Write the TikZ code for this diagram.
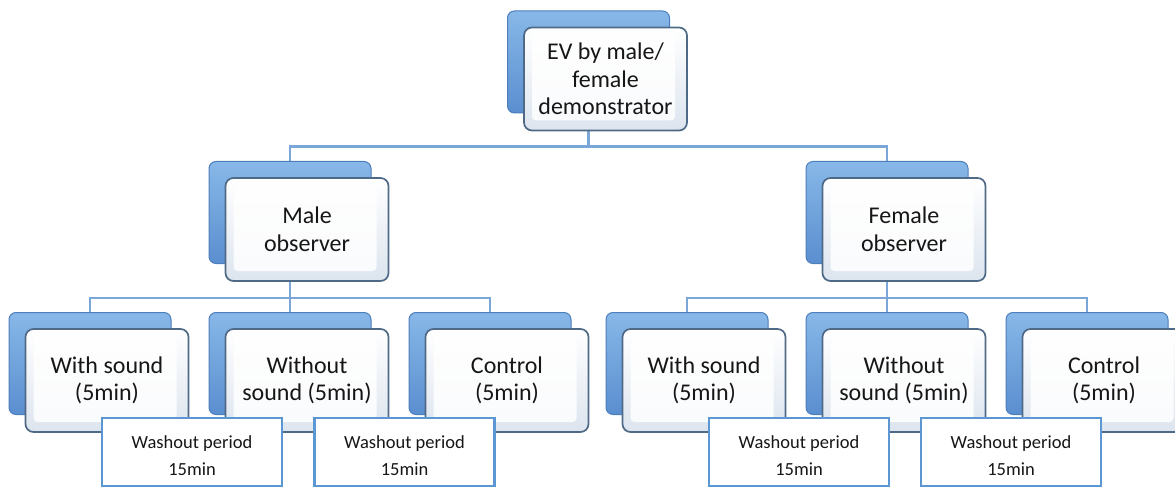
\documentclass[tikz,border=0pt]{standalone}
\usepackage{fontspec}
\setmainfont{Carlito}
\usepackage{tikz}
\usetikzlibrary{backgrounds}

\definecolor{backtop}{HTML}{88B8E8}
\definecolor{backbottom}{HTML}{5A8ECF}
\definecolor{backedge}{HTML}{4C7EBC}
\definecolor{frontedge}{HTML}{4F6A87}
\definecolor{frontbottom}{HTML}{DCE4EE}
\definecolor{linkcolor}{HTML}{7AA7D7}
\definecolor{washedge}{HTML}{5B97D2}
\definecolor{textcolor}{HTML}{161616}

\begin{document}
\begin{tikzpicture}[x=1pt, y=-1pt,
  backbox/.style={rectangle, rounded corners=7pt, top color=backtop, bottom color=backbottom,
    draw=backedge, line width=1pt, minimum width=162pt, minimum height=102pt, inner sep=0pt},
  frontbox/.style={rectangle, rounded corners=8pt, top color=white, bottom color=frontbottom,
    draw=frontedge, line width=1.7pt, minimum width=163pt, minimum height=103pt, inner sep=0pt,
    align=center, text=textcolor, font=\fontsize{24}{27.5}\selectfont,
    path picture={\fill[white, opacity=0.85, rounded corners=4pt]
      ([shift={(8pt,-7pt)}]path picture bounding box.north west) rectangle
      ([shift={(-12pt,10pt)}]path picture bounding box.south east);}},
  washbox/.style={rectangle, draw=washedge, line width=2.5pt, fill=white,
    minimum width=180pt, minimum height=68pt, inner sep=0pt, align=center, text height=48pt,
    text=textcolor, font=\fontsize{18.5}{27}\selectfont},
  link/.style={draw=linkcolor, line width=2.4pt}]
\def\frontshift{(17,17)}

\useasboundingbox (0,0) rectangle (1175,489);

% TOP BOX
\node[backbox] (evback) at (588.5, 62) {};
\node[frontbox] (ev) at ([shift=\frontshift]evback) {EV by male/\\female\\demonstrator};

% SECOND ROW
\node[backbox] (maleback) at (290, 212.5) {};
\node[frontbox] (male) at ([shift=\frontshift]maleback) {Male\\observer};

\node[backbox] (femaleback) at (887, 212.5) {};
\node[frontbox] (female) at ([shift=\frontshift]femaleback) {Female\\observer};

% THIRD ROW, MALE OBSERVER
\node[backbox] (mwithback) at (90, 363.5) {};
\node[frontbox] (mwith) at ([shift=\frontshift]mwithback) {With sound\\(5min)};

\node[backbox] (mwithoutback) at (290, 363.5) {};
\node[frontbox] (mwithout) at ([shift=\frontshift]mwithoutback) {Without\\sound (5min)};

\node[backbox] (mcontrolback) at (490, 363.5) {};
\node[frontbox] (mcontrol) at ([shift=\frontshift]mcontrolback) {Control\\(5min)};

% THIRD ROW, FEMALE OBSERVER
\node[backbox] (fwithback) at (687, 363.5) {};
\node[frontbox] (fwith) at ([shift=\frontshift]fwithback) {With sound\\(5min)};

\node[backbox] (fwithoutback) at (887, 363.5) {};
\node[frontbox] (fwithout) at ([shift=\frontshift]fwithoutback) {Without\\sound (5min)};

\node[backbox] (fcontrolback) at (1087, 363.5) {};
\node[frontbox] (fcontrol) at ([shift=\frontshift]fcontrolback) {Control\\(5min)};

% WASHOUT PERIODS
\node[washbox] (wash1) at (192, 452) {Washout period\\15min};
\node[washbox] (wash2) at (404.5, 452) {Washout period\\15min};
\node[washbox] (wash3) at (799, 452) {Washout period\\15min};
\node[washbox] (wash4) at (1011, 452) {Washout period\\15min};

% CONNECTORS
\begin{scope}[on background layer]
\draw[link] (evback.south) -- ++(0,33) -| (maleback.north);
\draw[link] (evback.south) -- ++(0,33) -| (femaleback.north);

\draw[link] (maleback.south) -- ++(0,34) -| (mwithback.north);
\draw[link] (maleback.south) -- (mwithoutback.north);
\draw[link] (maleback.south) -- ++(0,34) -| (mcontrolback.north);

\draw[link] (femaleback.south) -- ++(0,34) -| (fwithback.north);
\draw[link] (femaleback.south) -- (fwithoutback.north);
\draw[link] (femaleback.south) -- ++(0,34) -| (fcontrolback.north);
\end{scope}
\end{tikzpicture}
\end{document}
